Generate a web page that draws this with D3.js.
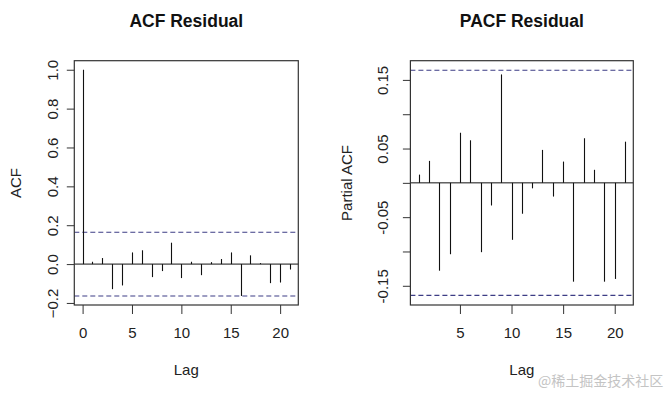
<!DOCTYPE html>
<html>
<head>
<meta charset="utf-8">
<script src="https://cdn.jsdelivr.net/npm/d3@7"></script>
<style>
  body { margin: 0; background: #fff; }
  svg { display: block; font-family: "Liberation Sans", Arial, sans-serif; }
</style>
</head>
<body>
<div id="chart"></div>
<script>
// ACF of residuals, lags 0..21
const acfLags = d3.range(0, 22);
const acfValues = [1.0, 0.012, 0.031, -0.129, -0.110, 0.060, 0.071, -0.067, -0.036, 0.110,
    -0.072, 0.012, -0.057, 0.010, 0.026, 0.060, -0.164, 0.045, 0.005, -0.098, -0.095, -0.028];

// PACF of residuals, lags 1..21
const pacfLags = d3.range(1, 22);
const pacfValues = [0.012, 0.032, -0.128, -0.104, 0.073, 0.062, -0.101, -0.033, 0.158, -0.083,
    -0.045, -0.008, 0.048, -0.020, 0.031, -0.144, 0.065, 0.019, -0.144, -0.140, 0.060];

const confLimit = 0.164;

const acfYTicks = [-0.2, 0.0, 0.2, 0.4, 0.6, 0.8, 1.0];
const pacfYTicks = [-0.15, -0.10, -0.05, 0.00, 0.05, 0.10, 0.15];
const pacfYLabels = ['-0.15', '', '-0.05', '', '0.05', '', '0.15'];
const acfXTicks = [0, 5, 10, 15, 20];
const pacfXTicks = [5, 10, 15, 20];

const width = 669, height = 393;

const svg = d3.select('#chart')
    .append('svg')
    .attr('width', width)
    .attr('height', height);

// R-style axis range: data range extended by 4% each side
function rRange(lo, hi) {
    const pad = (hi - lo) * 0.04;
    return [lo - pad, hi + pad];
}

function drawPanel(opt) {
    const x = d3.scaleLinear()
        .domain(rRange(d3.min(opt.lags), d3.max(opt.lags)))
        .range([opt.left, opt.right]);
    const y = d3.scaleLinear()
        .domain(opt.yDomain)
        .range([305, 60.7]);

    const g = svg.append('g');

    // x axis
    const xAxis = g.append('g')
        .attr('transform', 'translate(0,305)')
        .call(d3.axisBottom(x).tickValues(opt.xTicks).tickSize(9).tickFormat(d3.format('d')));
    xAxis.select('.domain').remove();
    xAxis.selectAll('line').attr('stroke', '#333');
    xAxis.selectAll('text')
        .attr('y', 33).attr('dy', 0)
        .attr('font-size', 15)
        .attr('font-family', '"Liberation Sans", Arial, sans-serif')
        .attr('fill', '#222');

    // y axis
    const yAxis = g.append('g')
        .attr('transform', `translate(${opt.left},0)`)
        .call(d3.axisLeft(y).tickValues(opt.yTicks).tickSize(7.5)
            .tickFormat((d, i) => opt.yLabels[i]));
    yAxis.select('.domain').remove();
    yAxis.selectAll('line').attr('stroke', '#333');
    yAxis.selectAll('text')
        .attr('x', 0).attr('y', 0).attr('dy', 0)
        .attr('text-anchor', 'middle')
        .attr('transform', `translate(${-opt.labelGap},0) rotate(-90)`)
        .attr('font-size', 15)
        .attr('font-family', '"Liberation Sans", Arial, sans-serif')
        .attr('fill', '#222');

    // zero line
    g.append('line')
        .attr('x1', opt.left).attr('x2', opt.right)
        .attr('y1', y(0)).attr('y2', y(0))
        .attr('stroke', '#111');

    // confidence bands
    [confLimit, -confLimit].forEach(c => {
        g.append('line')
            .attr('x1', opt.left).attr('x2', opt.right)
            .attr('y1', y(c)).attr('y2', y(c))
            .attr('stroke', '#3d3d85')
            .attr('stroke-width', 1.1)
            .attr('stroke-dasharray', '5,3');
    });

    // spikes
    g.selectAll('.spike')
        .data(opt.values)
        .enter()
        .append('line')
        .attr('class', 'spike')
        .attr('x1', (d, i) => Math.round(x(opt.lags[i])) + 0.5)
        .attr('x2', (d, i) => Math.round(x(opt.lags[i])) + 0.5)
        .attr('y1', y(0))
        .attr('y2', d => y(d))
        .attr('stroke', '#111')
        .attr('stroke-width', 1.1);

    // box
    g.append('rect')
        .attr('x', opt.left).attr('y', 60.7)
        .attr('width', opt.right - opt.left)
        .attr('height', 305 - 60.7)
        .attr('fill', 'none')
        .attr('stroke', '#333')
        .attr('stroke-width', 1.2);

    const cx = (opt.left + opt.right) / 2;

    g.append('text')
        .attr('x', cx).attr('y', 26.5)
        .attr('text-anchor', 'middle')
        .attr('font-size', 17.5)
        .attr('font-weight', 'bold')
        .attr('fill', '#111')
        .text(opt.title);

    g.append('text')
        .attr('x', cx).attr('y', 375)
        .attr('text-anchor', 'middle')
        .attr('font-size', 15)
        .attr('fill', '#222')
        .text('Lag');

    g.append('text')
        .attr('transform', `translate(${opt.yTitleX},183) rotate(-90)`)
        .attr('text-anchor', 'middle')
        .attr('font-size', 15)
        .attr('fill', '#222')
        .text(opt.yTitle);
}

drawPanel({
    title: 'ACF Residual',
    yTitle: 'ACF',
    lags: acfLags,
    values: acfValues,
    left: 74.3, right: 298.3,
    yDomain: rRange(-confLimit, 1.0),
    yTicks: acfYTicks,
    yLabels: acfYTicks.map(d3.format('.1f')),
    xTicks: acfXTicks,
    labelGap: 16,
    yTitleX: 20.5
});

drawPanel({
    title: 'PACF Residual',
    yTitle: 'Partial ACF',
    lags: pacfLags,
    values: pacfValues,
    left: 410.4, right: 633.3,
    yDomain: rRange(-confLimit - 0.0008, confLimit + 0.0008),
    yTicks: pacfYTicks,
    yLabels: pacfYLabels,
    xTicks: pacfXTicks,
    labelGap: 22.5,
    yTitleX: 352
});

// watermark
svg.append('text')
    .attr('x', 538).attr('y', 386)
    .attr('font-family', '"Noto Sans CJK SC", sans-serif')
    .attr('font-size', 14)
    .attr('fill', '#c4c4c4')
    .text('@稀土掘金技术社区');
</script>
</body>
</html>
